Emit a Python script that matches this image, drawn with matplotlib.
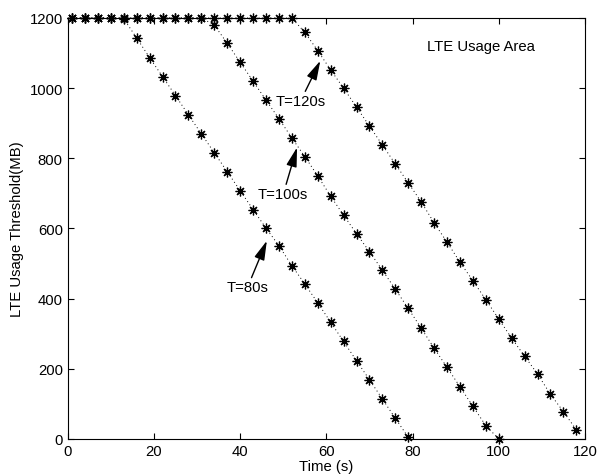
import numpy as np
import matplotlib.pyplot as plt

plt.rcParams['font.family'] = ['Liberation Sans', 'DejaVu Sans']

# sample times (s), one every 3 s
t80 = np.arange(1, 80, 3)
t100 = np.arange(1, 101, 3)
t120 = np.arange(1, 119, 3)

# LTE usage threshold (MB) for each deadline T
y80 = [1200, 1200, 1200, 1200, 1198, 1143, 1087, 1033, 979, 924, 870, 816, 762, 708,
       654, 601, 551, 494, 442, 388, 333, 278, 223, 169, 114, 59, 5]
y100 = [1200, 1200, 1200, 1200, 1200, 1200, 1200, 1200, 1200, 1200, 1200, 1180, 1128,
        1074, 1020, 966, 913, 858, 805, 750, 692, 638, 585, 534, 481, 427, 372, 316,
        259, 204, 149, 93, 38, 0]
y120 = [1200, 1200, 1200, 1200, 1200, 1200, 1200, 1200, 1200, 1200, 1200, 1200, 1200,
        1200, 1200, 1200, 1200, 1200, 1159, 1107, 1052, 1000, 946, 892, 838, 784, 730,
        676, 616, 561, 504, 451, 397, 342, 287, 236, 185, 127, 78, 26]

fs = 10.7

fig = plt.figure(figsize=(5.99, 4.77), dpi=100)
ax = fig.add_axes([0.113, 0.0776, 0.8636, 0.8826])

star = (8, 2, 0)
for t, y in [(t80, y80), (t100, y100), (t120, y120)]:
    ax.plot(t, y, color='k', linestyle=(0, (1, 3)), lw=0.7, marker=star,
            markersize=7, markeredgewidth=0.9, clip_on=False)

arrow = dict(arrowstyle='-|>,head_length=1.1,head_width=0.3', color='k', lw=1.0,
             shrinkA=0, shrinkB=0)
ax.annotate('T=80s', xy=(46.2, 565), xytext=(41.7, 432), ha='center', va='center',
            fontsize=fs, arrowprops=arrow)
ax.annotate('T=100s', xy=(53.2, 831), xytext=(50.0, 698), ha='center', va='center',
            fontsize=fs, arrowprops=arrow)
ax.annotate('T=120s', xy=(58.6, 1078), xytext=(54.0, 963), ha='center', va='center',
            fontsize=fs, arrowprops=arrow)
ax.text(83.3, 1120, 'LTE Usage Area', fontsize=fs, va='center')

ax.set_xlim(0, 120)
ax.set_ylim(0, 1200)
ax.set_xticks(np.arange(0, 121, 20))
ax.set_yticks(np.arange(0, 1201, 200))
ax.tick_params(direction='in', top=True, right=True, labelsize=fs, length=4)
ax.set_xlabel('Time (s)', fontsize=fs, labelpad=1)
ax.set_ylabel('LTE Usage Threshold(MB)', fontsize=fs)

fig.savefig('out.png', dpi=100)
